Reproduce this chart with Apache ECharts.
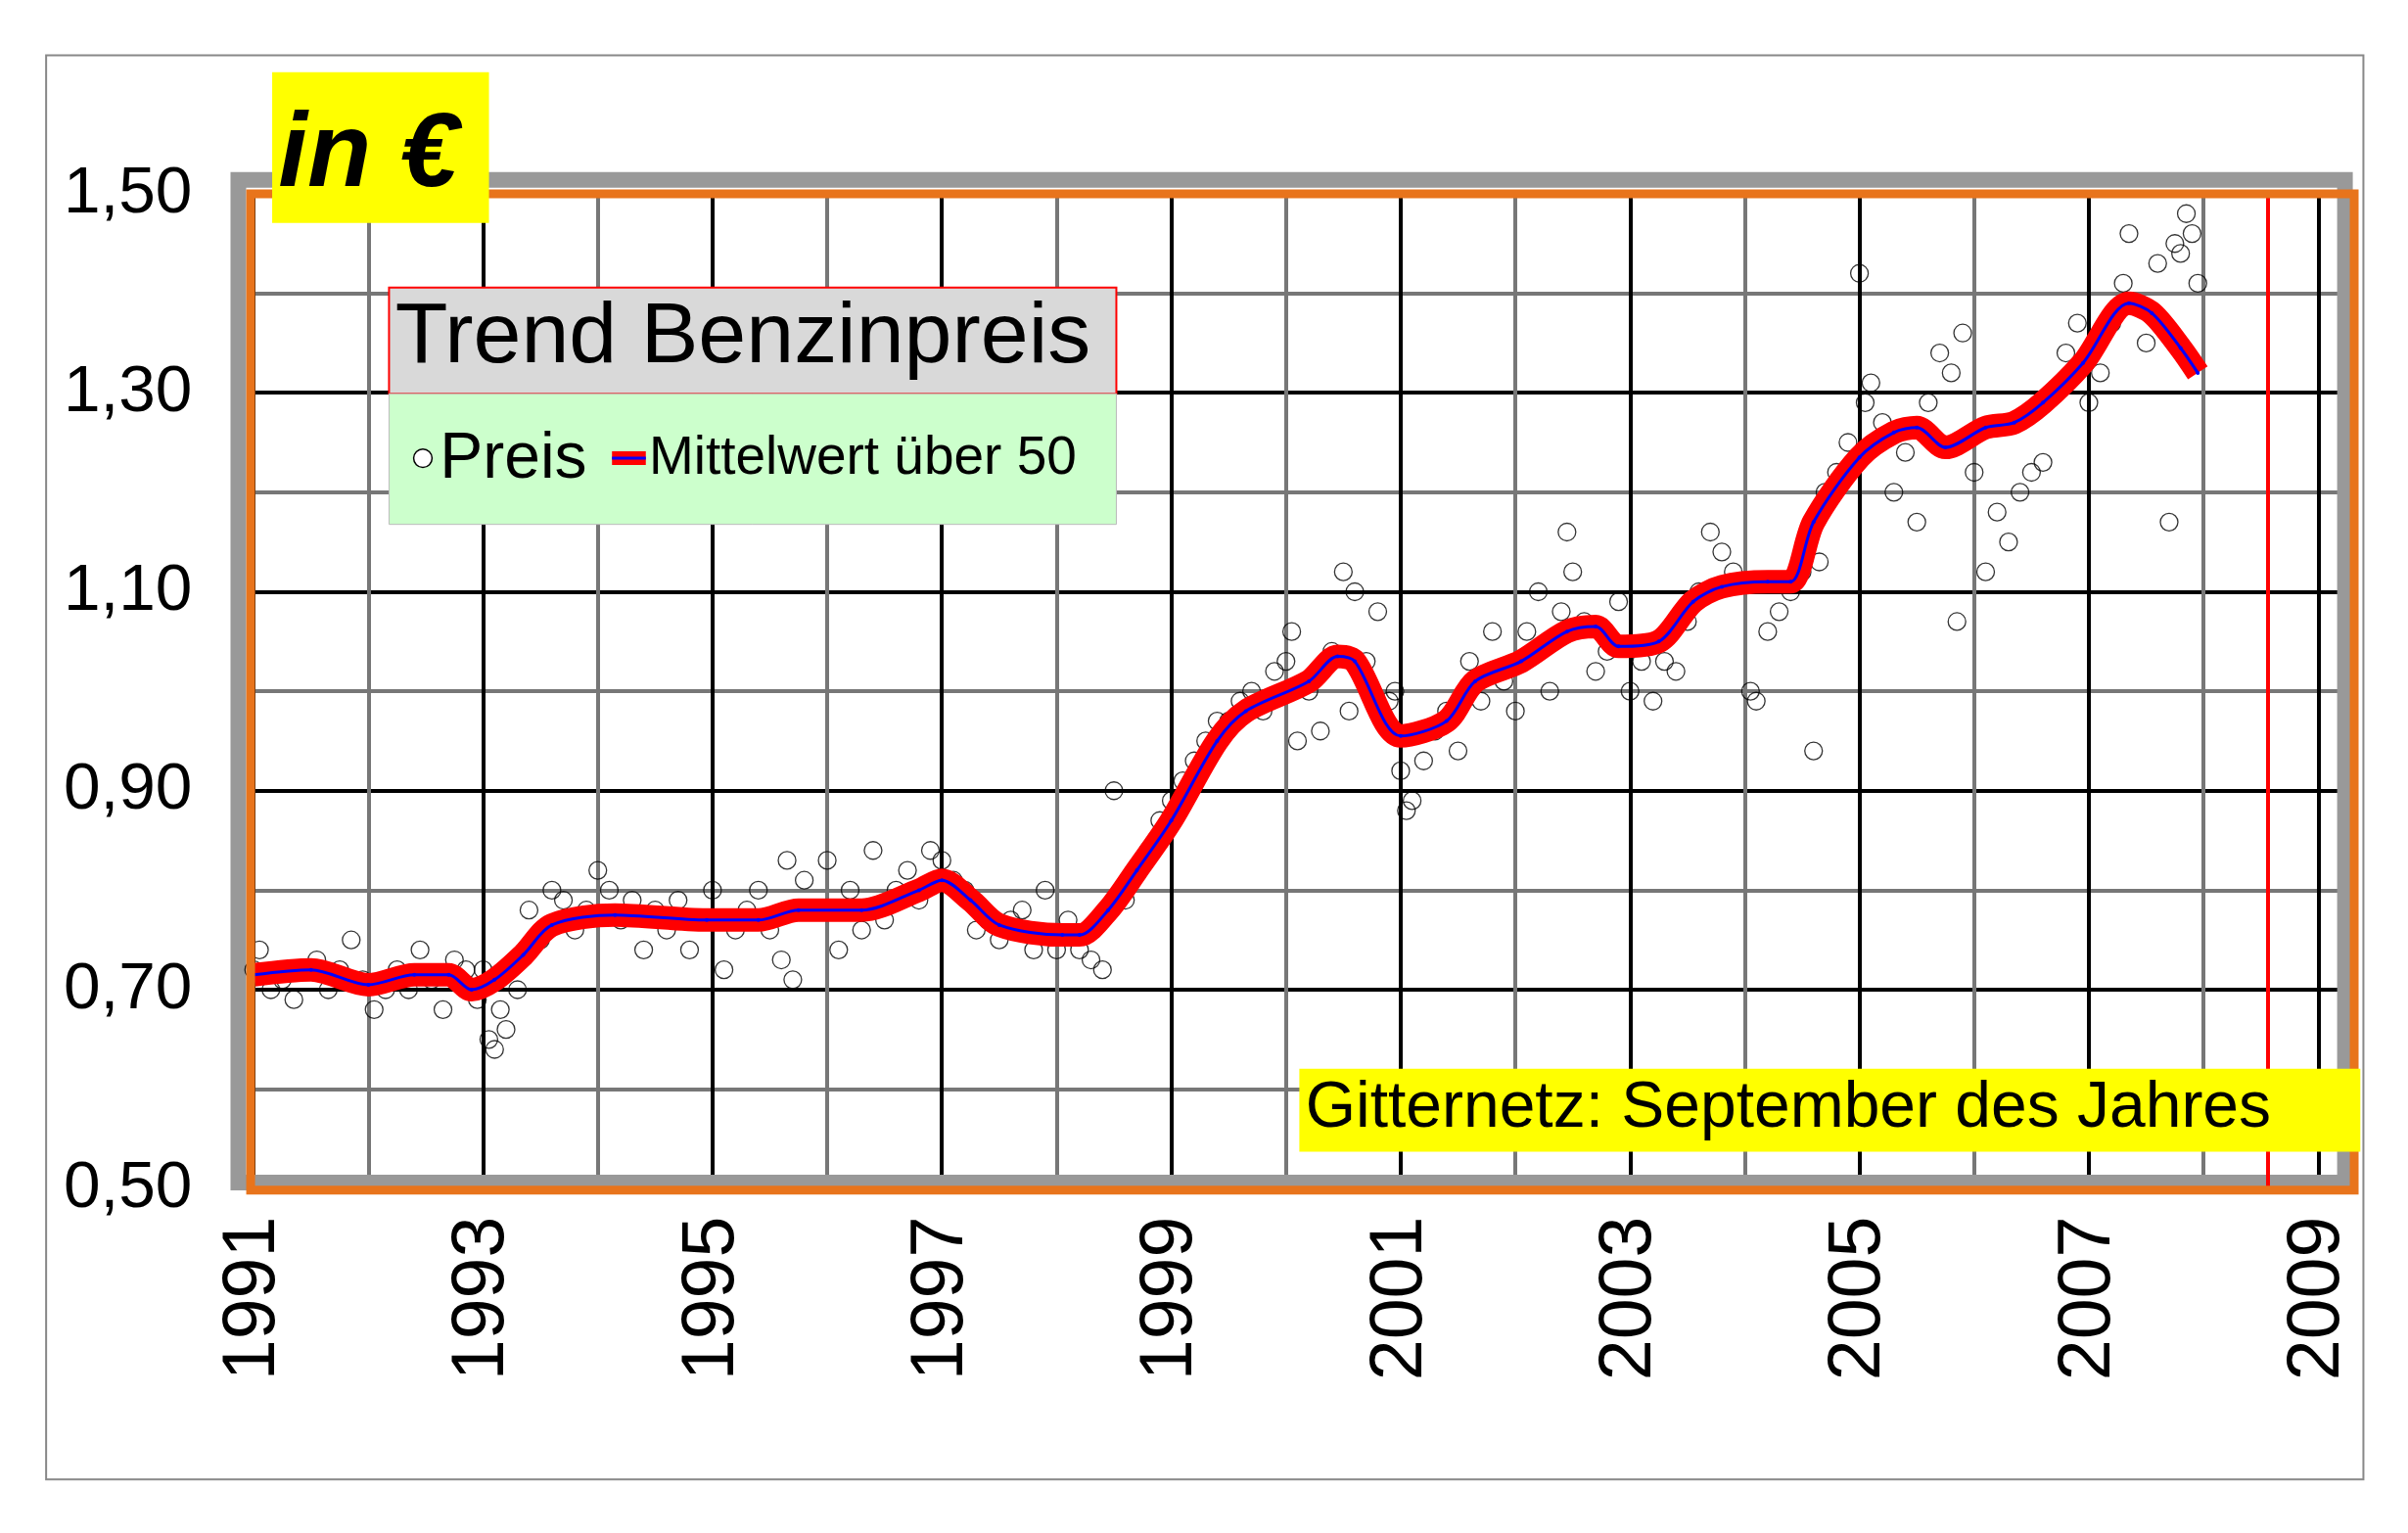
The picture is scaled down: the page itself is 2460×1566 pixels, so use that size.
<!DOCTYPE html>
<html><head><meta charset="utf-8">
<script src="https://cdn.jsdelivr.net/npm/echarts@6/dist/echarts.min.js"></script>
<style>html,body{margin:0;padding:0;background:#fff}#c{width:2460px;height:1566px}</style>
</head><body><div id="c"></div>
<script>
const yTicks = ['0,50','0,70','0,90','1,10','1,30','1,50'];
const xTicks = ['1991','1993','1995','1997','1999','2001','2003','2005','2007','2009'];
const trendYears = [1991.0,1991.5,1992.0,1992.4,1992.7,1992.9,1993.1,1993.35,1993.6,1994.15,1994.95,1995.4,1995.75,1996.3,1996.8,1997.0,1997.25,1997.5,1998.05,1998.2,1998.45,1998.7,1999.0,1999.4,1999.65,2000.2,2000.45,2000.6,2001.0,2001.4,2001.65,2002.05,2002.45,2002.7,2002.9,2003.25,2003.55,2003.8,2004.2,2004.4,2004.6,2005.0,2005.3,2005.5,2005.75,2006.1,2006.35,2006.6,2006.95,2007.35,2007.55,2007.8,2007.95];
const trendVals  = [0.715,0.72,0.705,0.715,0.715,0.70,0.71,0.735,0.765,0.775,0.77,0.77,0.78,0.78,0.80,0.81,0.79,0.765,0.755,0.755,0.78,0.82,0.87,0.95,0.98,1.01,1.035,1.03,0.955,0.97,1.01,1.03,1.06,1.065,1.045,1.05,1.09,1.105,1.11,1.11,1.17,1.235,1.26,1.265,1.245,1.265,1.27,1.29,1.33,1.39,1.38,1.345,1.32];
const priceYears = [1991.0,1991.05,1991.15,1991.25,1991.35,1991.45,1991.55,1991.65,1991.75,1991.85,1991.95,1992.05,1992.15,1992.25,1992.35,1992.45,1992.55,1992.65,1992.75,1992.85,1992.9,1992.95,1993.0,1993.05,1993.1,1993.15,1993.2,1993.3,1993.4,1993.5,1993.6,1993.7,1993.8,1993.9,1994.0,1994.1,1994.2,1994.3,1994.4,1994.5,1994.6,1994.7,1994.8,1994.9,1995.0,1995.1,1995.2,1995.3,1995.4,1995.5,1995.6,1995.65,1995.7,1995.8,1995.9,1996.0,1996.1,1996.2,1996.3,1996.4,1996.5,1996.6,1996.7,1996.8,1996.9,1997.0,1997.1,1997.2,1997.3,1997.4,1997.5,1997.6,1997.7,1997.8,1997.9,1998.0,1998.1,1998.2,1998.3,1998.4,1998.5,1998.6,1998.7,1998.8,1998.9,1999.0,1999.1,1999.2,1999.3,1999.4,1999.5,1999.6,1999.7,1999.8,1999.9,2000.0,2000.05,2000.1,2000.2,2000.3,2000.4,2000.5,2000.55,2000.6,2000.7,2000.8,2000.9,2000.95,2001.0,2001.05,2001.1,2001.2,2001.3,2001.4,2001.5,2001.6,2001.7,2001.8,2001.9,2002.0,2002.1,2002.2,2002.3,2002.4,2002.45,2002.5,2002.6,2002.7,2002.8,2002.9,2003.0,2003.1,2003.2,2003.3,2003.4,2003.5,2003.6,2003.7,2003.8,2003.9,2004.0,2004.05,2004.1,2004.2,2004.3,2004.4,2004.5,2004.6,2004.65,2004.7,2004.8,2004.9,2005.0,2005.05,2005.1,2005.2,2005.3,2005.4,2005.5,2005.6,2005.7,2005.8,2005.85,2005.9,2006.0,2006.1,2006.2,2006.3,2006.4,2006.5,2006.6,2006.7,2006.8,2006.9,2007.0,2007.1,2007.2,2007.3,2007.35,2007.4,2007.5,2007.6,2007.7,2007.75,2007.8,2007.85,2007.9,2007.95];
const priceVals = [0.72,0.74,0.70,0.71,0.69,0.72,0.73,0.70,0.72,0.75,0.71,0.68,0.70,0.72,0.70,0.74,0.71,0.68,0.73,0.72,0.70,0.69,0.72,0.65,0.64,0.68,0.66,0.70,0.78,0.75,0.80,0.79,0.76,0.78,0.82,0.80,0.77,0.79,0.74,0.78,0.76,0.79,0.74,0.77,0.80,0.72,0.76,0.78,0.80,0.76,0.73,0.83,0.71,0.81,0.78,0.83,0.74,0.80,0.76,0.84,0.77,0.80,0.82,0.79,0.84,0.83,0.81,0.80,0.76,0.77,0.75,0.77,0.78,0.74,0.80,0.74,0.77,0.74,0.73,0.72,0.90,0.79,0.82,0.84,0.87,0.89,0.91,0.93,0.95,0.97,0.97,0.99,1.00,0.98,1.02,1.03,1.06,0.95,1.00,0.96,1.04,1.12,0.98,1.10,1.03,1.08,0.99,1.00,0.92,0.88,0.89,0.93,0.96,0.98,0.94,1.03,0.99,1.06,1.01,0.98,1.06,1.10,1.00,1.08,1.16,1.12,1.07,1.02,1.04,1.09,1.00,1.03,0.99,1.03,1.02,1.07,1.10,1.16,1.14,1.12,1.11,1.00,0.99,1.06,1.08,1.10,1.12,0.94,1.13,1.20,1.22,1.25,1.42,1.29,1.31,1.27,1.20,1.24,1.17,1.29,1.34,1.32,1.07,1.36,1.22,1.12,1.18,1.15,1.20,1.22,1.23,1.30,1.34,1.37,1.29,1.32,1.37,1.41,1.46,1.39,1.35,1.43,1.17,1.45,1.44,1.48,1.46,1.41];
const priceData = priceYears.map((y,i)=>[y,priceVals[i]]);
const trendData = trendYears.map((y,i)=>[y,trendVals[i]]);

const s = 2460/1566;
const F = 'Liberation Sans, Arial, sans-serif';
const chart = echarts.init(document.getElementById('c'));
const G = {left:165*s, top:126*s, width:1365*s, height:647*s};
chart.setOption({
  backgroundColor:'#fff',
  animation:false,
  grid:{left:G.left, top:G.top, width:G.width, height:G.height, show:false},
  xAxis:{type:'value',min:1991,max:2009.3,interval:1,axisLine:{show:false},axisTick:{show:false},
     axisLabel:{rotate:90,fontSize:48*s,fontFamily:F,color:'#000',margin:18*s,showMaxLabel:false,
       formatter:v=>{const t=String(Math.round(v));return xTicks.includes(t)?t:'';}},
     splitLine:{lineStyle:{color:['#000','#777'],width:4}}},
  yAxis:{type:'value',min:0.5,max:1.5,interval:0.1,position:'left',axisLine:{show:false},axisTick:{show:false},
     axisLabel:{fontSize:43*s,fontFamily:F,color:'#000',margin:40*s,
       formatter:v=>{const t=v.toFixed(2).replace('.',',');return yTicks.includes(t)?t:'';}},
     splitLine:{lineStyle:{color:['#000','#777'],width:4}}},
  series:[
    {type:'scatter',data:priceData,symbol:'circle',symbolSize:18,
     itemStyle:{color:'rgba(0,0,0,0)',borderColor:'#000',borderWidth:1.3},z:3},
    {type:'line',data:trendData,showSymbol:false,smooth:0.3,
     lineStyle:{color:'#f00',width:24},z:4},
    {type:'line',data:trendData,symbol:'circle',symbolSize:4,smooth:0.3,
     itemStyle:{color:'#00f'},lineStyle:{color:'#00f',width:3},z:5,
     markLine:{silent:true,symbol:'none',label:{show:false},lineStyle:{color:'#f00',width:4,type:'solid'},data:[{xAxis:2008.56}]}}
  ],
  graphic:[
    {type:'rect',shape:{x:30*s,y:36*s,width:1507*s,height:926*s},style:{fill:null,stroke:'#888',lineWidth:2},z:0},
    {type:'rect',shape:{x:155*s,y:117*s,width:1370*s,height:652*s},style:{fill:null,stroke:'#999',lineWidth:16},z:1},
    {type:'rect',shape:{x:163*s,y:126*s,width:1368*s,height:648*s},style:{fill:null,stroke:'#e8741c',lineWidth:9},z:10},
    {type:'rect',shape:{x:177*s,y:47*s,width:141*s,height:98*s},style:{fill:'#ffff00'},z:20},
    {type:'text',x:181*s,y:68*s,style:{text:'in €',font:'italic bold '+(68*s)+'px '+F,fill:'#000'},z:21},
    {type:'rect',shape:{x:253*s,y:187*s,width:473*s,height:69*s},style:{fill:'#d9d9d9',stroke:'#f00',lineWidth:2},z:20},
    {type:'text',x:257*s,y:192*s,style:{text:'Trend Benzinpreis',font:(56*s)+'px '+F,fill:'#000'},z:21},
    {type:'rect',shape:{x:253*s,y:256*s,width:473*s,height:85*s},style:{fill:'#ccffcc',stroke:'#bbb',lineWidth:1},z:20},
    {type:'circle',shape:{cx:275*s,cy:298*s,r:6*s},style:{fill:'#fff',stroke:'#000',lineWidth:1.5},z:21},
    {type:'text',x:286*s,y:278*s,style:{text:'Preis',font:(42*s)+'px '+F,fill:'#000'},z:21},
    {type:'line',shape:{x1:398*s,y1:298*s,x2:420*s,y2:298*s},style:{stroke:'#f00',lineWidth:14},z:21},
    {type:'line',shape:{x1:398*s,y1:298*s,x2:420*s,y2:298*s},style:{stroke:'#00f',lineWidth:3},z:22},
    {type:'text',x:422*s,y:281*s,style:{text:'Mittelwert über 50',font:(35*s)+'px '+F,fill:'#000'},z:21},
    {type:'rect',shape:{x:845*s,y:695*s,width:690*s,height:54*s},style:{fill:'#ffff00'},z:20},
    {type:'text',x:849*s,y:700*s,style:{text:'Gitternetz: September des Jahres',font:(42*s)+'px '+F,fill:'#000'},z:21}
  ]
});
</script></body></html>
